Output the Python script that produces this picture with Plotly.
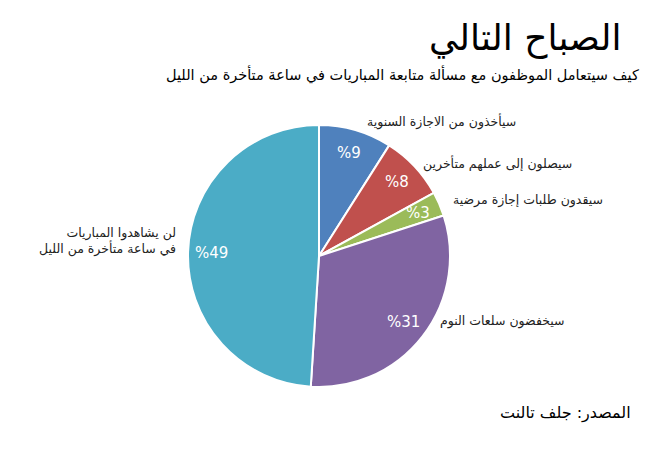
import math
import plotly.graph_objects as go

categories = [
    "سيأخذون من الاجازة السنوية",
    "سيصلون إلى عملهم متأخرين",
    "سيقدون طلبات إجازة مرضية",
    "سيخفضون سلعات النوم",
    "لن يشاهدوا المباريات<br>في ساعة متأخرة من الليل",
]
values = [9, 8, 3, 31, 49]
colors = ["#4F81BD", "#C0504D", "#9BBB59", "#8064A2", "#4BACC6"]

W, H = 646, 450
cx, cy, R = 319, 256, 131

fig = go.Figure()
fig.add_trace(go.Pie(
    labels=categories,
    values=values,
    sort=False,
    direction="clockwise",
    rotation=0,
    marker=dict(colors=colors, line=dict(color="white", width=2)),
    textinfo="none",
    hoverinfo="label+percent",
    domain=dict(x=[(cx - R) / W, (cx + R) / W], y=[1 - (cy + R) / H, 1 - (cy - R) / H]),
    showlegend=False,
))

# percentage labels placed from data (mid-angle of each slice)
total = sum(values)
cum = 0
for v in values:
    mid = (cum + v / 2) / total * 2 * math.pi
    cum += v
    px = cx + 0.82 * R * math.sin(mid)
    py = cy - 0.82 * R * math.cos(mid)
    fig.add_annotation(
        x=px / W, y=1 - py / H, xref="paper", yref="paper",
        xanchor="center", yanchor="middle",
        text="%" + str(v), showarrow=False,
        font=dict(family="DejaVu Sans", size=15, color="white"),
    )

# category labels (anchor x, y, xanchor, align)
label_pos = [
    (518, 122, "right", "right"),
    (574, 163, "right", "right"),
    (605, 200, "right", "right"),
    (567, 321, "right", "right"),
    (37, 241, "left", "right"),
]
for (lx, ly, xa, al), txt in zip(label_pos, categories):
    fig.add_annotation(
        x=lx / W, y=1 - ly / H, xref="paper", yref="paper",
        xanchor=xa, yanchor="middle",
        text=txt, showarrow=False, align=al,
        font=dict(family="DejaVu Sans", size=12.5, color="#222"),
    )

fig.add_annotation(
    x=623 / W, y=1 - 38 / H, xref="paper", yref="paper",
    xanchor="right", yanchor="middle",
    text="الصباح التالي", showarrow=False,
    font=dict(family="DejaVu Sans", size=36, color="black"),
)
fig.add_annotation(
    x=641 / W, y=1 - 75 / H, xref="paper", yref="paper",
    xanchor="right", yanchor="middle",
    text="كيف سيتعامل الموظفون مع مسألة متابعة المباريات في ساعة متأخرة من الليل",
    showarrow=False,
    font=dict(family="DejaVu Sans", size=14.5, color="black"),
)
fig.add_annotation(
    x=633 / W, y=1 - 413 / H, xref="paper", yref="paper",
    xanchor="right", yanchor="middle",
    text="المصدر: جلف تالنت", showarrow=False,
    font=dict(family="DejaVu Sans", size=16, color="black"),
)

fig.update_layout(
    width=W, height=H,
    margin=dict(l=0, r=0, t=0, b=0),
    paper_bgcolor="white", plot_bgcolor="white",
)

fig.write_html("out.html")
